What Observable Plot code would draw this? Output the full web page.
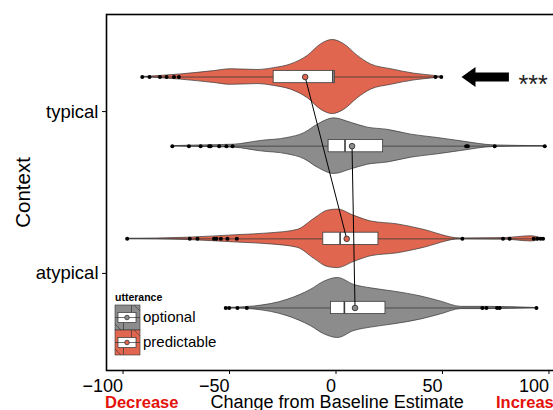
<!DOCTYPE html>
<html><head><meta charset="utf-8">
<script src="https://cdn.jsdelivr.net/npm/d3@7"></script>
<script src="https://cdn.jsdelivr.net/npm/@observablehq/plot@0.6"></script>
<style>
html,body{margin:0;padding:0;background:#fff;overflow:hidden}
#wrap{position:relative;width:553px;height:410px;overflow:hidden;font-family:"Liberation Sans",Arial,Helvetica,sans-serif}
#legend{position:absolute;left:0;top:0}
</style></head><body><div id="wrap"></div>
<script>
// ---------- data ----------
const contexts = ["atypical", "typical"];          // y categories, bottom to top
const utterances = ["optional", "predictable"];
const xTicks = [-100, -50, 0, 50, 100];
const colors = {optional: "#8C8C8C", predictable: "#E0664F"};

// group order: typical-predictable, typical-optional, atypical-predictable, atypical-optional
const groupContext   = ["typical", "typical", "atypical", "atypical"];
const groupUtterance = ["predictable", "optional", "predictable", "optional"];

// violin profiles: [value, relative density]
const violinTypicalPredictable = [[-90.5,0],[-81.9,0.03],[-72.5,0.07],[-56.8,0.16],[-48.9,0.21],[-36.4,0.19],[-28.6,0.24],[-20.7,0.34],[-12.8,0.57],[-6.6,0.88],[-1.1,1.0],[4.4,0.88],[10.7,0.57],[16.9,0.34],[26.4,0.21],[37.3,0.09],[46.7,0.03],[50.7,0]];
const violinTypicalOptional = [[-76.4,0],[-63,0.02],[-47.4,0.04],[-34.8,0.14],[-22.3,0.22],[-14.4,0.35],[-8.1,0.58],[-0.3,0.75],[7.5,0.63],[15.4,0.5],[24.8,0.44],[35.8,0.31],[48.3,0.22],[59.3,0.13],[75,0.02],[98.5,0]];
const violinAtypicalPredictable = [[-97.6,0],[-69.3,0.03],[-45.8,0.1],[-30.1,0.15],[-17.6,0.24],[-9.7,0.54],[-3.4,0.76],[1.3,0.79],[9.1,0.62],[16.9,0.47],[29.5,0.39],[40.5,0.26],[59.3,0.01],[79.5,0.02],[92.2,0.07],[97.7,0]];
const violinAtypicalOptional = [[-51.3,0],[-38,0.04],[-22.3,0.22],[-11.3,0.49],[-5,0.71],[1.3,0.81],[9.1,0.62],[16.9,0.53],[27.9,0.44],[40.5,0.31],[49.9,0.17],[59.3,0.03],[71.9,0.03],[94.6,0]];

// box statistics per group
const boxQ1     = [-28.8, -3.0, -5.5, -1.9];
const boxMedian = [-1.0, 4.7, 2.4, 4.4];
const boxQ3     = [0.0, 22.6, 20.4, 23.7];
const groupMean = [-14.0, 8.0, 5.5, 9.4];
const rangeLow  = [-90.5, -76.4, -97.6, -51.3];
const rangeHigh = [50.7, 98.5, 97.7, 94.6];

// outlying points
const outTypicalPredictable = [-90.5,-87.1,-82.2,-79.1,-75.6,-73.3,47.2,49.9];
const outTypicalOptional = [-76.4,-68.6,-63.1,-59.1,-58.4,-54.4,-51,-48.1,61.6,62.4,75,98.5];
const outAtypicalPredictable = [-97.6,-68.2,-64.6,-56.8,-55.7,-53.6,-50.5,-46.1,59.8,78.9,82,93.3,95,96.5,97.7];
const outAtypicalOptional = [-51.3,-49.7,-45.8,-41.4,69.2,71.1,76.1,77.3,94.6];

// significance annotation (typical context, predictable)
const annotArrowFrom = 81.9, annotArrowTo = 65.5, annotHeadAt = 62.7, annotStarsAt = 86.2;
const annotText = "***";

// ---------- layout constants ----------
const DODGE = 0.2136;     // half dodge offset in category units
const VW = 0.229;         // violin max half width
const BH = 0.038;         // box half height
const FONT = '"Liberation Sans", Arial, Helvetica, sans-serif';

const violins = [violinTypicalPredictable, violinTypicalOptional, violinAtypicalPredictable, violinAtypicalOptional];
const outs = [outTypicalPredictable, outTypicalOptional, outAtypicalPredictable, outAtypicalOptional];

const groups = groupContext.map((c, i) => {
  const pos = contexts.indexOf(c) + 1 + (groupUtterance[i] === "predictable" ? DODGE : -DODGE);
  return {i, context: c, utterance: groupUtterance[i], pos, color: colors[groupUtterance[i]],
    q1: boxQ1[i], median: boxMedian[i], q3: boxQ3[i], mean: groupMean[i], lo: rangeLow[i], hi: rangeHigh[i],
    violin: violins[i].map(([x, d]) => ({x, y1: pos - d * VW, y2: pos + d * VW})),
    outliers: outs[i].map(x => ({x, y: pos}))};
});

const marks = [];
for (const g of groups) {
  marks.push(Plot.areaY(g.violin, {x: "x", y1: "y1", y2: "y2", fill: g.color, stroke: "#333", strokeWidth: 0.7, curve: "monotone-x"}));
}
for (const g of groups) {
  marks.push(Plot.ruleY([g], {y: "pos", x1: "lo", x2: "hi", stroke: "#3a3a3a", strokeWidth: 0.8}));
  marks.push(Plot.rect([g], {x1: "q1", x2: "q3", y1: d => d.pos - BH, y2: d => d.pos + BH, fill: "white", stroke: "#3a3a3a", strokeWidth: 0.8}));
  marks.push(Plot.ruleX([g], {x: "median", y1: d => d.pos - BH, y2: d => d.pos + BH, stroke: "#3a3a3a", strokeWidth: 1.6}));
  marks.push(Plot.dot(g.outliers, {x: "x", y: "y", r: 2, fill: "black"}));
}
// mean connectors
for (const u of utterances) {
  const pts = groups.filter(g => g.utterance === u).sort((a, b) => b.pos - a.pos);
  marks.push(Plot.line(pts, {x: "mean", y: "pos", stroke: "black", strokeWidth: 1}));
}
for (const g of groups) {
  marks.push(Plot.dot([g], {x: "mean", y: "pos", r: 2.8, fill: g.color, stroke: "#333", strokeWidth: 0.9}));
}
// annotation arrow + stars
const tp = groups[0];
const leftTri = {draw(ctx, size) { const k = Math.sqrt(size / Math.PI) / 10; ctx.moveTo(-7 * k, 0); ctx.lineTo(7 * k, -10 * k); ctx.lineTo(7 * k, 10 * k); ctx.closePath(); }};
marks.push(Plot.ruleY([tp], {y: "pos", x1: () => annotArrowTo, x2: () => annotArrowFrom, stroke: "black", strokeWidth: 9}));
marks.push(Plot.dot([tp], {x: () => annotHeadAt, y: "pos", r: 10, symbol: leftTri, fill: "black", stroke: "none"}));
marks.push(Plot.text([tp], {x: () => annotStarsAt, y: "pos", text: () => annotText, textAnchor: "start", fontSize: 25, dy: 8, fill: "#222"}));

// axes
marks.push(Plot.axisX({ticks: xTicks, tickFormat: d => (d < 0 ? "\u2212" + Math.abs(d) : String(d)), fontSize: 18, tickSize: 4, tickPadding: 5, textAnchor: "end", dx: 1, label: null, color: "black"}));
marks.push(Plot.axisY({ticks: [1, 2], tickFormat: d => contexts[d - 1], fontSize: 18.5, tickSize: 4, tickPadding: 4, label: null, color: "black"}));
marks.push(Plot.frame({stroke: "black", strokeWidth: 1.6}));

// axis titles
const xTitles = [
  {x: -108, text: "Decrease", bold: true},
  {x: 1, text: "Change from Baseline Estimate", bold: false},
  {x: 75.6, text: "Increase", bold: true}
];
marks.push(Plot.text(xTitles.filter(d => !d.bold), {x: "x", text: "text", frameAnchor: "bottom", lineAnchor: "middle", textAnchor: "middle", fontSize: 18, dy: 31.5, fill: "black"}));
marks.push(Plot.text(xTitles.filter(d => d.bold), {x: "x", text: "text", frameAnchor: "bottom", lineAnchor: "middle", textAnchor: "start", fontSize: 16.5, fontWeight: "bold", dy: 32, fill: "#E3120B"}));
marks.push(Plot.text(["Context"], {x: () => -146.3, y: () => 1.5, text: d => d, rotate: -90, fontSize: 20.5, fill: "black"}));

const chart = Plot.plot({
  width: 563, height: 410,
  marginLeft: 106, marginRight: 0, marginTop: 14, marginBottom: 40,
  x: {domain: [-107.3, 107.3]},
  y: {domain: [0.4, 2.6]},
  style: {fontFamily: FONT, maxWidth: "none", overflow: "visible", background: "white"},
  marks
});
document.getElementById("wrap").appendChild(chart);

// ---------- legend (inside panel, bottom-left) ----------
const lg = d3.select("#wrap").append("svg").attr("id", "legend").attr("width", 553).attr("height", 410)
  .style("font-family", FONT);
lg.append("text").attr("x", 115).attr("y", 300.5).attr("font-size", 10.5).attr("font-weight", "bold").text("utterance");
utterances.forEach((u, i) => {
  const kx = 115, ky = 305 + i * 25, s = 25;
  const g = lg.append("g");
  g.append("rect").attr("x", kx).attr("y", ky).attr("width", s).attr("height", s).attr("fill", colors[u]).attr("stroke", "#333").attr("stroke-width", 0.6);
  g.append("line").attr("x1", kx + 19).attr("y1", ky).attr("x2", kx + s).attr("y2", ky + 6).attr("stroke", "#333").attr("stroke-width", 0.6);
  g.append("line").attr("x1", kx).attr("y1", ky + 19).attr("x2", kx + 6).attr("y2", ky + s).attr("stroke", "#333").attr("stroke-width", 0.6);
  g.append("line").attr("x1", kx).attr("y1", ky + s / 2).attr("x2", kx + s).attr("y2", ky + s / 2).attr("stroke", "#333").attr("stroke-width", 0.7);
  g.append("line").attr("x1", kx + 16.5).attr("y1", ky).attr("x2", kx + 16.5).attr("y2", ky + 7.5).attr("stroke", "#333").attr("stroke-width", 0.7);
  g.append("line").attr("x1", kx + 8.5).attr("y1", ky + 17.5).attr("x2", kx + 8.5).attr("y2", ky + s).attr("stroke", "#333").attr("stroke-width", 0.7);
  g.append("rect").attr("x", kx + 3).attr("y", ky + 7.5).attr("width", 18).attr("height", 10).attr("fill", "white").attr("stroke", "#333").attr("stroke-width", 0.7);
  g.append("line").attr("x1", kx + 3).attr("y1", ky + 12.5).attr("x2", kx + 21).attr("y2", ky + 12.5).attr("stroke", "#333").attr("stroke-width", 0.7);
  g.append("circle").attr("cx", kx + 12).attr("cy", ky + 12.5).attr("r", 2.3).attr("fill", colors[u]).attr("stroke", "#333").attr("stroke-width", 0.8);
  lg.append("text").attr("x", 143).attr("y", ky + 17).attr("font-size", 15).text(u);
});
</script></body></html>
